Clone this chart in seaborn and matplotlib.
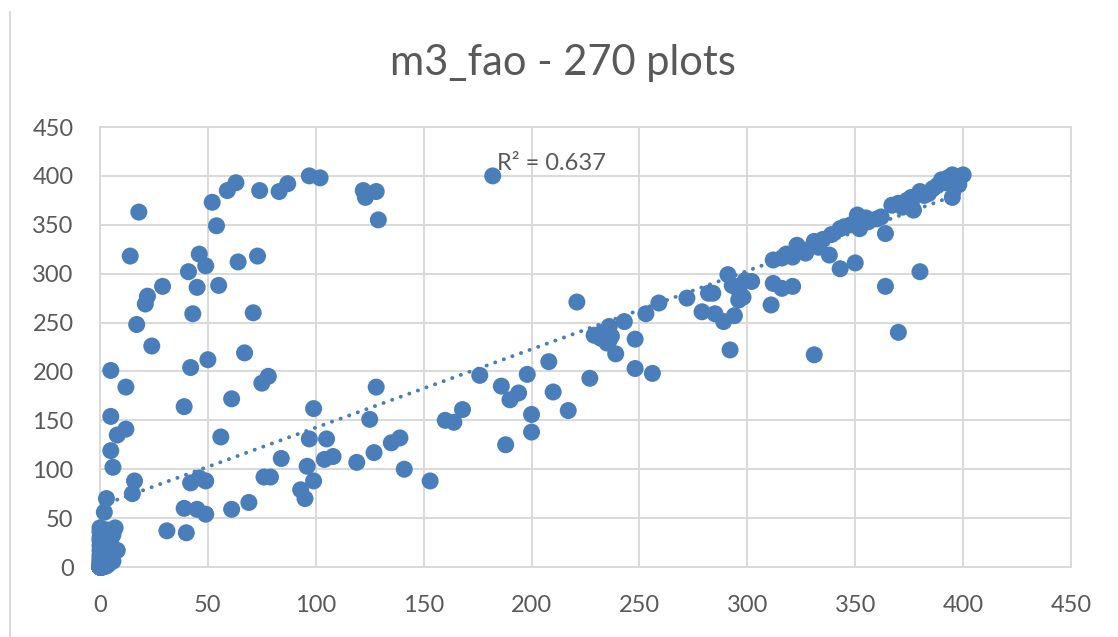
import pandas as pd
import seaborn as sns
import matplotlib
matplotlib.use("Agg")
import matplotlib.pyplot as plt
from matplotlib.lines import Line2D

# --- data -------------------------------------------------------------------
# plots sitting at or near the origin
origin_x = [0, 0, 0, 0, 0, 0, 0, 0, 0, 0, 0, 0, 0, 0, 0, 0, 0, 0, 0, 0,
            0, 0, 0, 0, 0, 0, 0, 0, 1, 1, 1, 1,
            1, 1, 1, 1, 1, 0, 0, 0, 2, 2,
            2, 1, 3, 0, 0, 2, 4, 1, 3, 0,
            5, 2, 6, 1, 4, 0, 3, 1, 5, 2,
            0, 4, 6, 3, 1, 2, 0, 3, 1, 2,
            4, 0, 1, 2, 3, 0, 1, 2, 0, 1,
            3, 2, 1, 0, 2, 4, 5, 3, 1, 2]
origin_y = [0, 0, 0, 0, 0, 0, 0, 0, 0, 0, 0, 0, 0, 0, 0, 0, 0, 0, 0, 0,
            0, 0, 0, 0, 0, 0, 0, 0, 0, 0, 0, 0,
            0, 0, 0, 1, 1, 1, 2, 3, 2, 4,
            1, 3, 1, 5, 6, 6, 4, 8, 10, 12,
            8, 14, 6, 18, 20, 22, 25, 28, 28, 32,
            30, 35, 33, 38, 2, 5, 9, 15, 11, 7,
            3, 17, 24, 20, 16, 27, 13, 19, 36, 31,
            22, 26, 21, 40, 10, 12, 14, 5, 7, 9]

# plots with low m3_fao but high reference volume
upper_x = [18, 14, 52, 54, 59, 63, 74, 83, 87, 97, 102, 122, 123, 128, 129,
           46, 49, 41, 64, 73, 29, 45, 55, 22, 21, 17, 43, 71, 24, 67,
           5, 42, 50, 12, 78, 75, 128, 39, 61, 99, 5, 125, 12, 8, 56,
           97, 105, 139, 135, 5, 84, 127, 108, 104, 119, 6, 96, 141, 182]
upper_y = [363, 318, 373, 349, 385, 393, 385, 384, 392, 400, 398, 385, 378, 384, 355,
           320, 308, 302, 312, 318, 287, 286, 288, 277, 269, 248, 259, 260, 226, 219,
           201, 204, 212, 184, 195, 188, 184, 164, 172, 162, 154, 151, 141, 135, 133,
           131, 131, 132, 127, 119, 111, 117, 113, 110, 107, 102, 103, 100, 400]

# scattered low-value plots
lower_x = [99, 93, 95, 153, 42, 46, 49, 76, 79, 39, 45, 49, 61, 69,
           31, 40, 15, 16, 3, 2, 7, 8]
lower_y = [88, 79, 70, 88, 86, 91, 88, 92, 92, 60, 59, 54, 59, 66,
           37, 35, 75, 88, 70, 56, 40, 17]

# plots following the 1:1 band
band_x = [160, 164, 168, 176, 186, 190, 194, 198, 200, 200, 188, 208, 210, 217, 227,
          221, 232, 236, 235, 229, 239, 243, 248, 248, 256, 253, 259, 272, 279, 284,
          285, 289, 294, 291, 293, 298, 302, 292, 282, 311, 312, 316, 321, 299, 296,
          296, 312, 316, 321, 323, 327, 331, 333, 338, 339, 343, 343, 350, 351, 352,
          355, 360, 364, 364, 380, 367, 374, 377, 380, 386, 390, 395, 400, 395, 398,
          370, 331, 233, 236, 237, 318, 325, 335, 345, 348, 356, 362, 370,
          372, 376, 382, 384, 388, 392, 393, 397, 376]
band_y = [150, 148, 161, 196, 185, 171, 178, 197, 156, 138, 125, 210, 179, 160, 193,
          271, 234, 246, 229, 237, 218, 251, 233, 203, 198, 259, 270, 275, 261, 280,
          259, 251, 257, 299, 288, 276, 292, 222, 280, 268, 290, 285, 287, 293, 283,
          273, 314, 316, 317, 329, 321, 333, 327, 319, 340, 346, 305, 311, 360, 346,
          357, 356, 341, 287, 302, 370, 375, 365, 384, 387, 396, 401, 401, 378, 391,
          240, 217, 240, 232, 236, 320, 325, 335, 348, 350, 353, 358, 372,
          368, 378, 380, 382, 390, 393, 398, 399, 373]

r2_text = "R\u00b2 = 0.637"
title_text = "m3_fao - 270 plots"
ticks = [0, 50, 100, 150, 200, 250, 300, 350, 400, 450]

df = pd.DataFrame({
    "x": origin_x + upper_x + lower_x + band_x,
    "y": origin_y + upper_y + lower_y + band_y,
})

# --- style ------------------------------------------------------------------
sns.set_style("white")
plt.rcParams["font.family"] = ["Lato", "DejaVu Sans"]

blue = "#4A7EBB"
grid = "#D9D9D9"
text_col = "#595959"

W, H = 1118, 637
fig = plt.figure(figsize=(W / 100, H / 100), dpi=100)
ax = fig.add_axes([100 / W, 70 / H, 971 / W, 440 / H])

# scatter plus a dotted least-squares trend line
sns.regplot(data=df, x="x", y="y", ax=ax, ci=None, truncate=True,
            scatter_kws=dict(s=150, color=blue, alpha=1, edgecolors="none",
                             linewidths=0, clip_on=False, zorder=3),
            line_kws=dict(color=blue, lw=2.8, linestyle=(0, (0.05, 2.3)),
                          dash_capstyle="round", zorder=4))

ax.set_xlim(0, 450)
ax.set_ylim(0, 450)
ax.set_xticks(ticks)
ax.set_yticks(ticks)
ax.grid(True, color=grid, lw=1.4)
ax.set_axisbelow(True)
for s in ax.spines.values():
    s.set_color(grid)
    s.set_linewidth(1.4)
ax.tick_params(length=0, labelsize=17, colors=text_col)
ax.tick_params(axis="x", pad=20)
ax.tick_params(axis="y", pad=19)
ax.set_xlabel("")
ax.set_ylabel("")

ax.text(184, 413, r2_text, fontsize=17, color=text_col, va="center", ha="left")

fig.text(563 / W, 1 - 63 / H, title_text, fontsize=30, color=text_col,
         ha="center", va="center")

# left edge of the chart frame
fig.add_artist(Line2D([10 / W, 10 / W], [0, 1 - 12 / H], transform=fig.transFigure,
                      color=grid, lw=1.5))

fig.savefig("out.png", dpi=100, facecolor="white")
